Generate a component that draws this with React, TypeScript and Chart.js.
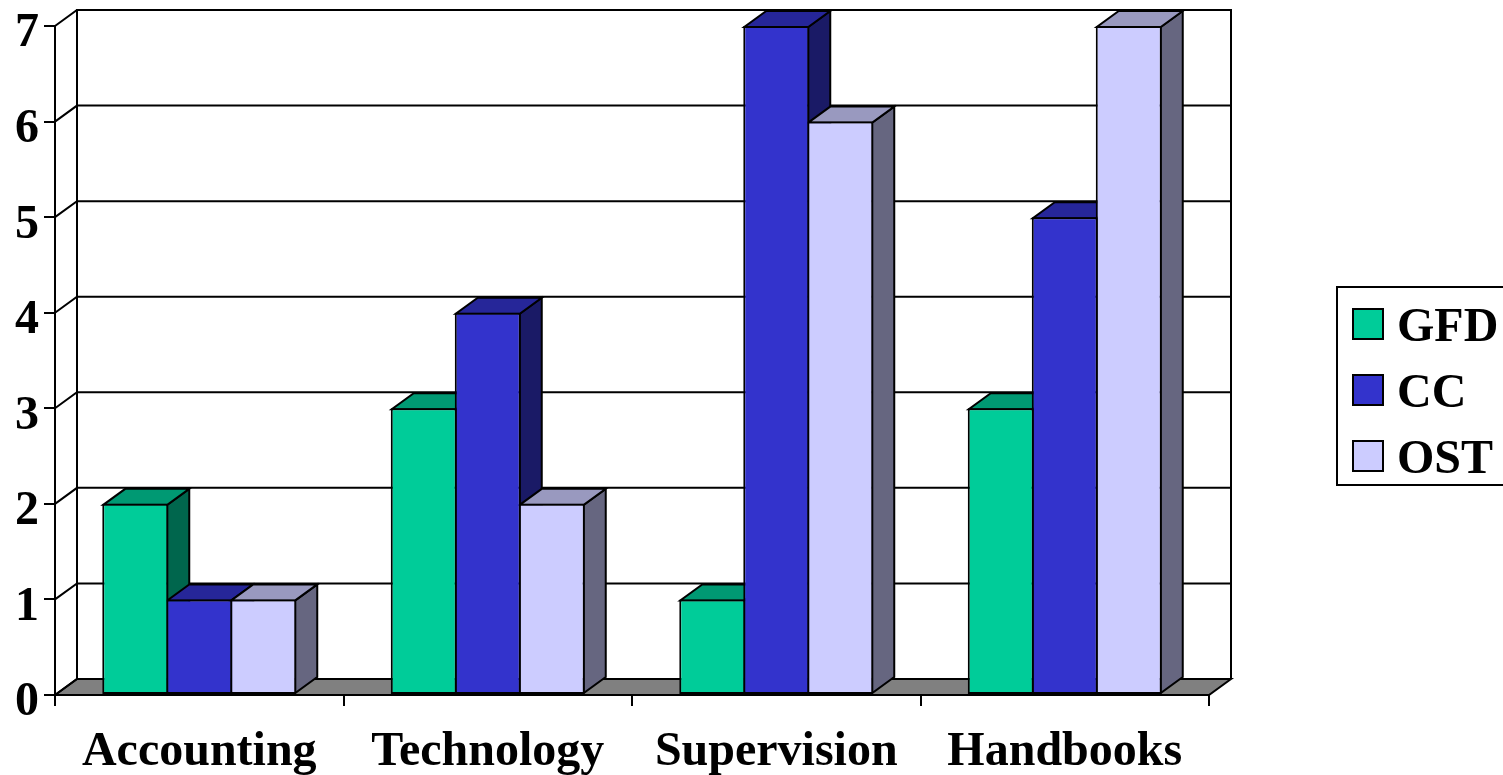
import React, { useEffect, useRef } from "react";
import { Chart, registerables } from "chart.js";

Chart.register(...registerables);

const categories = ["Accounting", "Technology", "Supervision", "Handbooks"];
const gfdValues = [2, 3, 1, 3];
const ccValues = [1, 4, 7, 5];
const ostValues = [1, 2, 6, 7];
const yTicks = [0, 1, 2, 3, 4, 5, 6, 7];

const seriesNames = ["GFD", "CC", "OST"];
const frontColors = ["#00CC99", "#3333CC", "#CCCCFF"];
const topColors = ["#009973", "#262699", "#9999BF"];
const sideColors = ["#00664D", "#1A1A66", "#666680"];

const FONT = '"Liberation Serif", "Times New Roman", serif';
const DX = 22;
const DY = 16;
const LINE = 2;

const depthPlugin = {
  id: "depth3d",
  beforeDraw(chart: any) {
    // Lower the value labels to sit on their ticks as in the reference.
    const items = chart.scales.y.getLabelItems();
    items.forEach((it: any) => {
      if (!it.options.__moved) {
        it.options.translation[1] += 8;
        it.options.__moved = true;
      }
    });
  },
  beforeDatasetsDraw(chart: any) {
    const { ctx, scales, chartArea } = chart;
    const y = scales.y;
    const L = chartArea.left;
    const R = chartArea.right;
    const base = y.getPixelForValue(0);
    const top = y.getPixelForValue(7);
    ctx.save();
    ctx.lineWidth = LINE;
    ctx.strokeStyle = "#000";
    ctx.lineJoin = "miter";
    // floor
    ctx.beginPath();
    ctx.moveTo(L, base);
    ctx.lineTo(R, base);
    ctx.lineTo(R + DX, base - DY);
    ctx.lineTo(L + DX, base - DY);
    ctx.closePath();
    ctx.fillStyle = "#808080";
    ctx.fill();
    ctx.stroke();
    // wall frame
    ctx.beginPath();
    ctx.moveTo(L + DX, base - DY);
    ctx.lineTo(L + DX, top - DY);
    ctx.lineTo(R + DX, top - DY);
    ctx.lineTo(R + DX, base - DY);
    ctx.stroke();
    // gridlines and side-wall diagonals
    yTicks.forEach((v) => {
      const p = y.getPixelForValue(v);
      ctx.beginPath();
      ctx.moveTo(L, p);
      ctx.lineTo(L + DX, p - DY);
      ctx.lineTo(R + DX, p - DY);
      ctx.stroke();
    });
    // side and top faces of the bars, left to right, under the native fronts
    const metas = chart.data.datasets.map((_: any, i: number) => chart.getDatasetMeta(i));
    categories.forEach((_, c) => {
      metas.forEach((meta: any, i: number) => {
        const bar = meta.data[c];
        const xL = bar.x - bar.width / 2 + LINE / 2;
        const xR = bar.x + bar.width / 2 - LINE / 2;
        const yT = bar.y + LINE / 2;
        const yB = bar.base - LINE / 2;
        ctx.beginPath();
        ctx.moveTo(xR, yT);
        ctx.lineTo(xR + DX, yT - DY);
        ctx.lineTo(xR + DX, yB - DY);
        ctx.lineTo(xR, yB);
        ctx.closePath();
        ctx.fillStyle = sideColors[i];
        ctx.fill();
        ctx.stroke();
        ctx.beginPath();
        ctx.moveTo(xL, yT);
        ctx.lineTo(xR, yT);
        ctx.lineTo(xR + DX, yT - DY);
        ctx.lineTo(xL + DX, yT - DY);
        ctx.closePath();
        ctx.fillStyle = topColors[i];
        ctx.fill();
        ctx.stroke();
      });
    });
    ctx.restore();
  },
  afterDraw(chart: any) {
    const { ctx } = chart;
    ctx.save();
    ctx.lineWidth = LINE;
    ctx.strokeStyle = "#000";
    ctx.strokeRect(1337, 287, 200, 198);
    ctx.font = `bold 48px ${FONT}`;
    ctx.textBaseline = "alphabetic";
    ctx.textAlign = "left";
    chart.data.datasets.forEach((ds: any, i: number) => {
      const rowY = 309 + i * 66;
      ctx.fillStyle = ds.backgroundColor;
      ctx.fillRect(1353, rowY, 30, 30);
      ctx.strokeRect(1353, rowY, 30, 30);
      ctx.fillStyle = "#000";
      ctx.fillText(ds.label, 1397, rowY + 32);
    });
    ctx.restore();
  },
};

export default function App() {
  const ref = useRef<HTMLCanvasElement>(null);
  useEffect(() => {
    const values = [gfdValues, ccValues, ostValues];
    const chart = new Chart(ref.current!, {
      type: "bar",
      data: {
        labels: categories,
        datasets: values.map((data, i) => ({
          label: seriesNames[i],
          data,
          backgroundColor: frontColors[i],
          borderColor: "#000",
          borderWidth: LINE,
          borderSkipped: false,
          categoryPercentage: 192 / 288.5,
          barPercentage: 66 / 64,
          clip: false,
        })),
      } as any,
      options: {
        responsive: false,
        animation: false,
        layout: { padding: { left: 0, right: 294, top: 26, bottom: 0 } },
        plugins: { legend: { display: false }, tooltip: { enabled: false } },
        scales: {
          x: {
            afterFit: (s: any) => {
              s.height = 80;
              s.paddingLeft = 0;
              s.paddingRight = 0;
            },
            grid: {
              offset: true,
              drawOnChartArea: false,
              tickLength: 11,
              color: "#000",
              lineWidth: LINE,
            },
            border: { color: "#000", width: LINE, z: 1 },
            ticks: {
              color: "#000",
              padding: 18,
              maxRotation: 0,
              autoSkip: false,
              font: { family: FONT, weight: "bold", size: 48 },
            },
          },
          y: {
            min: 0,
            max: 7,
            afterFit: (s: any) => {
              s.width = 55;
              s.paddingTop = 0;
              s.paddingBottom = 0;
            },
            afterBuildTicks: (s: any) => {
              s.ticks = yTicks.map((value) => ({ value }));
            },
            grid: {
              drawOnChartArea: false,
              tickLength: 11,
              color: "#000",
              lineWidth: LINE,
            },
            border: { color: "#000", width: LINE },
            ticks: {
              color: "#000",
              padding: 5,
              font: { family: FONT, weight: "bold", size: 48 },
            },
          },
        },
      },
      plugins: [depthPlugin],
    } as any);
    return () => chart.destroy();
  }, []);
  return (
    <canvas
      ref={ref}
      width={1503}
      height={775}
      style={{ position: "absolute", left: 0, top: 0, display: "block" }}
    />
  );
}
